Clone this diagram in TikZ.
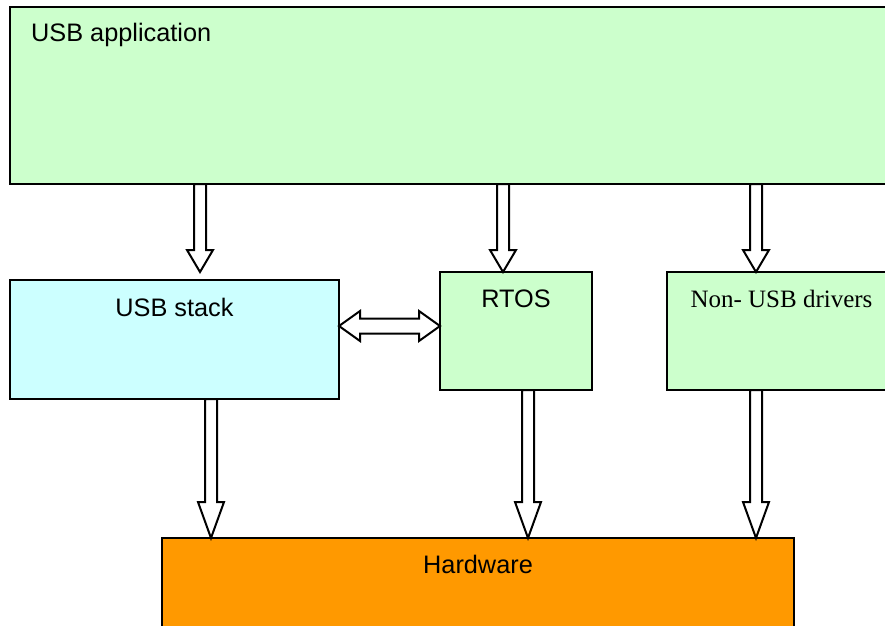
\documentclass[tikz,border=0pt]{standalone}
\usepackage{fontspec}
\setmainfont{Liberation Sans}
\newfontfamily\serifface{Liberation Serif}
\usetikzlibrary{calc}
\definecolor{appgreen}{HTML}{CCFFCC}
\definecolor{stackcyan}{HTML}{CCFFFF}
\definecolor{hworange}{HTML}{FF9900}
\tikzset{
  box/.style={draw=black, line width=2pt, inner sep=0pt, outer sep=0pt, anchor=north west},
  boxtext/.style={anchor=base, inner sep=0pt, font=\fontsize{25.3}{29}\selectfont},
  blockarr/.style={draw=black, fill=white, line width=2pt, line join=miter},
}
% hollow block arrow pointing down: start, tip, head length
\newcommand\blockdown[3]{%
  \draw[blockarr] let \p1=(#1), \p2=(#2) in
    (\x1-6pt,\y1) -- (\x1-6pt,\y2+#3pt) -- (\x1-13pt,\y2+#3pt) -- (\x2,\y2)
    -- (\x1+13pt,\y2+#3pt) -- (\x1+6pt,\y2+#3pt) -- (\x1+6pt,\y1) -- cycle;}
% hollow block arrow with heads at both ends (horizontal)
\newcommand\blockboth[2]{%
  \draw[blockarr] let \p1=(#1), \p2=(#2) in
    (\x1,\y1) -- (\x1+21pt,\y1+15pt) -- (\x1+21pt,\y1+7.5pt) -- (\x2-21pt,\y1+7.5pt)
    -- (\x2-21pt,\y1+15pt) -- (\x2,\y1) -- (\x2-21pt,\y1-15pt) -- (\x2-21pt,\y1-7.5pt)
    -- (\x1+21pt,\y1-7.5pt) -- (\x1+21pt,\y1-15pt) -- cycle;}
\begin{document}
\begin{tikzpicture}[x=1pt,y=-1pt]
\useasboundingbox (0,0) rectangle (885,625);
\clip (0,0) rectangle (885,625);

% layers
\node[box, fill=appgreen, minimum width=886pt, minimum height=177pt] (app) at (10,7) {};
\node[box, fill=stackcyan, minimum width=329pt, minimum height=119pt] (stack) at (10,280) {};
\node[box, fill=appgreen, minimum width=152pt, minimum height=118pt] (rtos) at (440,272) {};
\node[box, fill=appgreen, minimum width=229pt, minimum height=118pt] (nonusb) at (667,272) {};
\node[box, fill=hworange, minimum width=632pt, minimum height=120pt] (hw) at (162,538) {};

% labels
\node[boxtext, anchor=base west] (appt) at ($(app.north west)+(21,34)$) {USB application};
\node[boxtext] (stackt) at ($(stack.north)+(0,36)$) {USB stack};
\node[boxtext] (rtost) at ($(rtos.north)+(0,35)$) {RTOS};
\node[boxtext, font=\serifface\fontsize{25}{28}\selectfont] (nonusbt) at ($(nonusb.north)+(0,35)$) {Non- USB drivers};
\node[boxtext] (hwt) at ($(hw.north)+(0,35)$) {Hardware};

% arrow end points
\coordinate (a1) at ($(app.south west)+(190,0)$);
\coordinate (a2) at ($(app.south west)+(493,0)$);
\coordinate (a3) at ($(app.south west)+(746,0)$);
\coordinate (b1) at ($(stack.south west)+(201,0)$);
\coordinate (b2) at ($(rtos.south west)+(88,0)$);
\coordinate (b3) at ($(nonusb.south west)+(89,0)$);
\coordinate (c1) at ($(stack.north east)+(0,46)$);

% application down to the middle layer
\blockdown{a1}{a1 |- rtos.north}{22}
\blockdown{a2}{a2 |- rtos.north}{22}
\blockdown{a3}{a3 |- nonusb.north}{22}

% middle layer down to hardware
\blockdown{b1}{b1 |- hw.north}{36}
\blockdown{b2}{b2 |- hw.north}{36}
\blockdown{b3}{b3 |- hw.north}{36}

% stack <-> RTOS
\blockboth{c1}{c1 -| rtos.west}
\end{tikzpicture}
\end{document}
